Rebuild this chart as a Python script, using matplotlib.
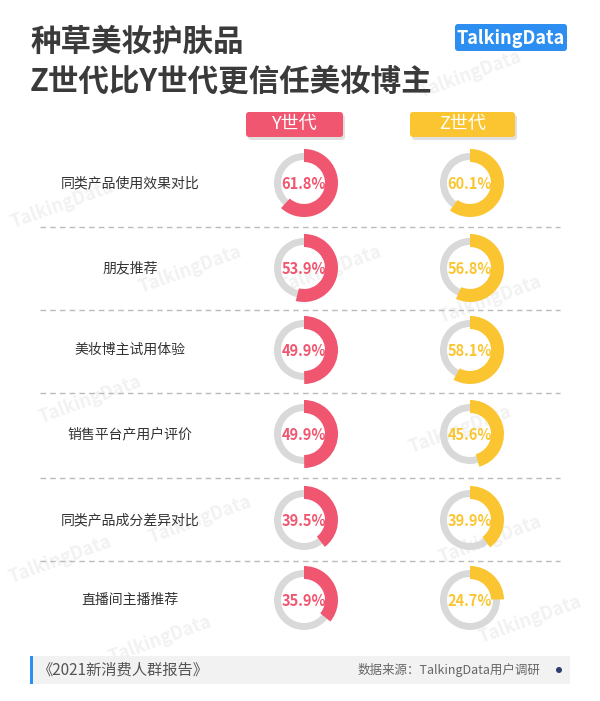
import matplotlib
matplotlib.use("Agg")
import matplotlib.pyplot as plt
from matplotlib.patches import Wedge, FancyBboxPatch, Rectangle, Circle

plt.rcParams['font.family'] = ['Noto Sans CJK SC', 'DejaVu Sans']

categories = ["同类产品使用效果对比", "朋友推荐", "美妆博主试用体验",
              "销售平台产用户评价", "同类产品成分差异对比", "直播间主播推荐"]
y_gen = [61.8, 53.9, 49.9, 49.9, 39.5, 35.9]
z_gen = [60.1, 56.8, 58.1, 45.6, 39.9, 24.7]

RED = "#f0566f"
YEL = "#fbc531"
GRAY = "#d9d9d9"

fig = plt.figure(figsize=(6, 7.01), dpi=100)
ax = fig.add_axes([0, 0, 1, 1])
ax.set_xlim(0, 600)
ax.set_ylim(701, 0)
ax.axis("off")

# watermarks
for wx, wy in [(62, 205), (190, 270), (470, 75), (90, 400), (200, 520), (490, 300),
               (460, 430), (490, 540), (60, 560), (530, 620), (330, 270), (160, 640)]:
    ax.text(wx, wy, "TalkingData", fontsize=13, color="#f2f2f2", rotation=20,
            ha="center", va="center", fontweight="bold", zorder=0)

ax.text(30, 42, "种草美妆护肤品", fontsize=22, fontweight="bold", color="#3a3a3a", va="center")
ax.text(30, 82, "Z世代比Y世代更信任美妆博主", fontsize=22, fontweight="bold", color="#3a3a3a", va="center")

ax.add_patch(FancyBboxPatch((455, 24), 112, 27, boxstyle="round,pad=0,rounding_size=3",
                            fc="#2b8ef0", ec="none"))
ax.text(511, 38, "TalkingData", fontsize=13, fontweight="bold", color="white", ha="center", va="center")

for x0, w, c, lab in [(246, 97, RED, "Y世代"), (410, 105, YEL, "Z世代")]:
    ax.add_patch(FancyBboxPatch((x0 + 2, 115), w, 25, boxstyle="round,pad=0,rounding_size=3",
                                fc="#cccccc", ec="none", alpha=0.6))
    ax.add_patch(FancyBboxPatch((x0, 112), w, 25, boxstyle="round,pad=0,rounding_size=3",
                                fc=c, ec="none"))
    ax.text(x0 + w / 2, 124, lab, fontsize=13, color="white", ha="center", va="center")

row_y = [183, 268, 350, 434, 520, 600]
for i, (cat, yv, zv) in enumerate(zip(categories, y_gen, z_gen)):
    cy = row_y[i]
    ax.text(130, cy, cat, fontsize=10, fontweight="medium", color="#333333", ha="center", va="center")
    for cx, v, c in [(304, yv, RED), (470, zv, YEL)]:
        ax.add_patch(Wedge((cx, cy), 30, 0, 360, width=7, fc=GRAY, ec="none"))
        # y axis is inverted, so angles run clockwise on screen
        ax.add_patch(Wedge((cx, cy), 34, -90, -90 + 3.6 * v, width=13, fc=c, ec="none"))
        ax.text(cx, cy + 1, f"{v}%", fontsize=10.5, fontweight="bold", color=c,
                ha="center", va="center")
    if i < len(categories) - 1:
        my = (row_y[i] + row_y[i + 1]) / 2 + 1
        ax.plot([40, 560], [my, my], ls=(0, (4, 3)), color="#bbbbbb", lw=1)

ax.add_patch(Rectangle((30, 656), 540, 28, fc="#f2f2f2", ec="none"))
ax.add_patch(Rectangle((30, 656), 3, 28, fc="#2b8ef0", ec="none"))
ax.text(38, 670, "《2021新消费人群报告》", fontsize=11, color="#555555", va="center")
ax.text(540, 670, "数据来源：TalkingData用户调研", fontsize=9, color="#666666",
        va="center", ha="right", style="italic")
ax.add_patch(Circle((559, 670), 3, fc="#2c3e6b", ec="none"))

fig.savefig("out.png", dpi=100)
